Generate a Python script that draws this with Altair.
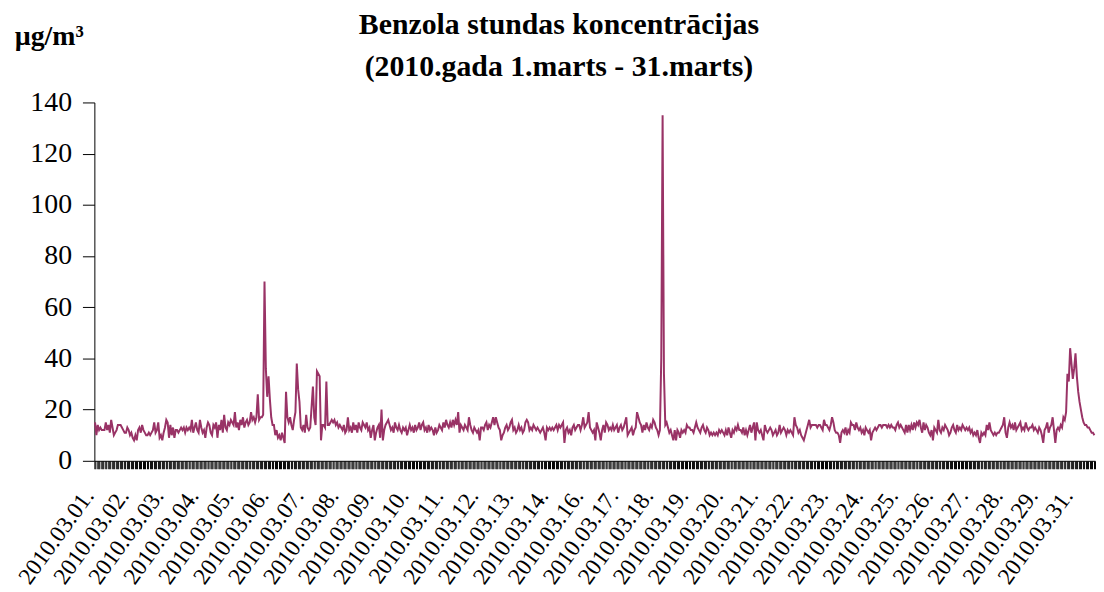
import altair as alt
import pandas as pd

# Hourly benzene concentrations (µg/m3), 2010-03-01 .. 2010-03-31, 24 values per day
day01 = [15, 10, 14, 12, 13, 12, 12, 12, 15, 12, 14, 11, 16, 13, 10, 11, 12, 14, 14, 14, 13, 12, 11, 11]
day02 = [13, 12, 10, 11, 9, 8, 10, 8, 12, 13, 11, 14, 12, 11, 10, 10, 11, 10, 11, 12, 15, 11, 12, 15]
day03 = [9, 10, 8, 11, 13, 16, 15, 9, 14, 10, 13, 9, 12, 12, 11, 12, 13, 12, 13, 11, 13, 12, 13, 12]
day04 = [16, 11, 13, 15, 12, 11, 16, 13, 11, 12, 9, 13, 15, 14, 11, 10, 14, 13, 15, 9, 14, 12, 16, 11]
day05 = [18, 13, 12, 15, 14, 16, 15, 14, 19, 13, 15, 12, 16, 14, 17, 13, 15, 16, 14, 15, 19, 16, 17, 15]
day06 = [17, 26, 16, 17, 17, 18, 70, 36, 25, 33, 24, 17, 14, 14, 10, 12, 9, 10, 8, 11, 9, 7, 27, 17]
day07 = [15, 17, 14, 12, 16, 19, 38, 28, 23, 13, 12, 14, 11, 18, 13, 12, 13, 21, 29, 17, 14, 35, 34, 33]
day08 = [8, 14, 14, 13, 31, 14, 14, 15, 16, 15, 16, 14, 15, 13, 14, 13, 12, 14, 11, 12, 17, 12, 13, 11]
day09 = [15, 12, 14, 11, 15, 13, 12, 15, 14, 13, 15, 12, 13, 9, 12, 14, 8, 11, 13, 14, 9, 20, 8, 12]
day10 = [14, 15, 16, 14, 12, 13, 11, 15, 13, 12, 14, 12, 11, 13, 12, 13, 10, 12, 14, 12, 13, 11, 14, 12]
day11 = [13, 15, 12, 14, 15, 12, 13, 11, 14, 12, 13, 12, 10, 13, 11, 12, 14, 13, 12, 15, 13, 16, 14, 13]
day12 = [15, 13, 16, 14, 16, 14, 19, 11, 14, 13, 12, 14, 13, 12, 17, 14, 12, 11, 13, 12, 11, 12, 8, 13]
day13 = [13, 12, 14, 15, 12, 14, 13, 15, 17, 14, 17, 15, 13, 12, 8, 10, 11, 13, 14, 12, 13, 15, 16, 12]
day14 = [13, 11, 12, 14, 12, 13, 11, 12, 15, 16, 15, 12, 13, 12, 14, 13, 12, 13, 12, 11, 12, 13, 11, 8]
day15 = [13, 12, 13, 12, 13, 12, 13, 14, 12, 14, 13, 14, 15, 7, 12, 13, 11, 12, 10, 13, 14, 12, 13, 14]
day16 = [14, 12, 14, 17, 13, 14, 15, 19, 13, 12, 11, 12, 8, 15, 13, 11, 8, 12, 14, 11, 15, 14, 12, 13]
day17 = [12, 14, 12, 13, 14, 11, 13, 14, 12, 13, 15, 17, 10, 11, 12, 13, 10, 12, 13, 19, 17, 15, 14, 11]
day18 = [14, 12, 15, 13, 12, 14, 13, 16, 15, 13, 12, 10, 12, 40, 135, 34, 14, 15, 13, 11, 12, 10, 8, 12]
day19 = [8, 12, 11, 9, 12, 11, 12, 11, 14, 13, 13, 12, 12, 11, 13, 15, 13, 12, 11, 13, 14, 12, 11, 13]
day20 = [12, 10, 11, 10, 11, 10, 11, 10, 12, 11, 12, 11, 10, 12, 10, 13, 11, 9, 12, 11, 13, 12, 14, 12]
day21 = [12, 11, 13, 10, 12, 10, 12, 14, 11, 13, 15, 8, 15, 12, 11, 12, 10, 8, 14, 12, 11, 12, 13, 12]
day22 = [10, 11, 12, 10, 11, 14, 11, 12, 13, 12, 10, 12, 11, 12, 11, 10, 17, 14, 13, 11, 12, 10, 9, 8]
day23 = [10, 12, 14, 16, 13, 14, 14, 14, 14, 13, 14, 14, 13, 12, 16, 14, 14, 13, 12, 14, 17, 15, 12, 11]
day24 = [11, 10, 7, 11, 12, 11, 13, 10, 12, 11, 15, 14, 14, 12, 15, 13, 12, 13, 11, 12, 10, 13, 12, 11]
day25 = [12, 8, 11, 12, 13, 12, 13, 14, 14, 13, 14, 14, 14, 13, 14, 13, 14, 13, 13, 12, 14, 15, 13, 14]
day26 = [13, 12, 11, 14, 11, 14, 12, 14, 12, 15, 13, 15, 14, 16, 13, 11, 15, 12, 14, 13, 11, 10, 12, 8]
day27 = [13, 12, 11, 16, 12, 11, 13, 12, 14, 13, 12, 10, 11, 13, 14, 12, 11, 14, 12, 13, 12, 14, 13, 12]
day28 = [13, 12, 13, 11, 12, 10, 11, 10, 12, 9, 7, 11, 10, 11, 10, 14, 12, 15, 12, 11, 10, 11, 10, 11]
day29 = [11, 12, 13, 14, 17, 11, 9, 13, 15, 13, 14, 12, 15, 12, 13, 14, 15, 12, 13, 12, 15, 13, 12, 13]
day30 = [13, 14, 12, 13, 12, 11, 13, 12, 10, 7, 12, 13, 15, 11, 13, 14, 17, 12, 7, 12, 13, 12, 14, 13]
day31 = [17, 16, 19, 34, 31, 44, 38, 32, 36, 42, 33, 27, 23, 20, 17, 15, 14, 14, 13, 13, 12, 11, 11, 10]

days = [day01, day02, day03, day04, day05, day06, day07, day08, day09, day10,
        day11, day12, day13, day14, day15, day16, day17, day18, day19, day20,
        day21, day22, day23, day24, day25, day26, day27, day28, day29, day30, day31]

date_labels = ["2010.03.01.", "2010.03.02.", "2010.03.03.", "2010.03.04.", "2010.03.05.",
               "2010.03.06.", "2010.03.07.", "2010.03.08.", "2010.03.09.", "2010.03.10.",
               "2010.03.11.", "2010.03.12.", "2010.03.13.", "2010.03.14.", "2010.03.16.",
               "2010.03.17.", "2010.03.18.", "2010.03.19.", "2010.03.20.", "2010.03.21.",
               "2010.03.22.", "2010.03.23.", "2010.03.24.", "2010.03.25.", "2010.03.26.",
               "2010.03.27.", "2010.03.28.", "2010.03.29.", "2010.03.31."]
label_step = 26
y_ticks = [0, 20, 40, 60, 80, 100, 120, 140]

values = [v for d in days for v in d]
n_hours = len(values)
df = pd.DataFrame({"hour": [i + 0.5 for i in range(n_hours)], "value": values})

label_array = "[" + ",".join("'" + s + "'" for s in date_labels) + "]"
label_expr = (f"datum.value % {label_step} === 0 && datum.value / {label_step} < {len(date_labels)}"
              f" ? {label_array}[datum.value / {label_step}] : ''")

FONT = "Liberation Serif"

x_axis = alt.Axis(
    values=list(range(0, n_hours + 1)),
    labelExpr=label_expr,
    labelAngle=-54,
    labelAlign="right",
    labelBaseline="alphabetic",
    labelFont=FONT,
    labelFontSize=23.5,
    labelColor="black",
    labelPadding=27,
    labelOverlap=False,
    labelFlush=False,
    tickColor="black",
    tickSize=8,
    tickWidth=1,
    domainColor="black",
    domainWidth=1,
    grid=False,
    title=None,
)

y_axis = alt.Axis(
    values=y_ticks,
    labelFont=FONT,
    labelFontSize=28,
    labelColor="black",
    labelPadding=11,
    tickColor="black",
    tickSize=12,
    domainColor="black",
    grid=False,
    title="µg/m³",
    titleAngle=0,
    titleFont=FONT,
    titleFontSize=28,
    titleFontWeight="bold",
    titleColor="black",
    titleAlign="center",
    titleBaseline="alphabetic",
    titleX=-46,
    titleY=-58,
)

chart = alt.Chart(df).mark_line(color="#993366", strokeWidth=2).encode(
    x=alt.X("hour:Q", scale=alt.Scale(domain=[0, n_hours], nice=False, zero=False), axis=x_axis),
    y=alt.Y("value:Q", scale=alt.Scale(domain=[0, 140], nice=False), axis=y_axis),
).properties(
    width=1008,
    height=361,
    title=alt.TitleParams(
        ["Benzola stundas koncentrācijas", "(2010.gada 1.marts - 31.marts)"],
        font=FONT,
        fontSize=30,
        fontWeight="bold",
        color="black",
        anchor="middle",
        dx=-36,
        dy=69,
        lineHeight=42,
        offset=10,
    ),
    autosize=alt.AutoSizeParams(type="none"),
    padding={"left": 87, "top": 93, "right": 1, "bottom": 128},
).configure_view(stroke=None)

chart.save("out.html", embed_options={"renderer": "svg", "actions": False})
